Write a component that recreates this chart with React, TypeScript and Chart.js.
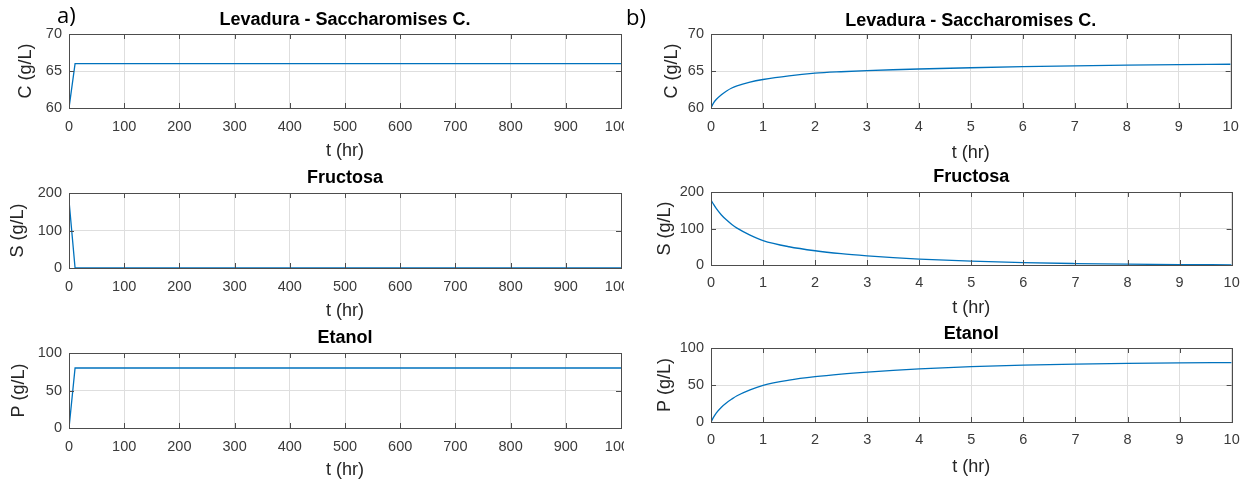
import React, { useEffect, useRef } from "react";
import { Chart, registerables } from "chart.js";
Chart.register(...registerables);

// ---------- data ----------
// a) long simulation, 0 - 1000 hr
const T_LONG = [0, 11, 1000];
const C_LONG = [60, 66, 66];
const S_LONG = [180, 0, 0];
const P_LONG = [0, 80, 80];

// b) short simulation, 0 - 10 hr
const T_SHORT = [0, 0.05, 0.1, 0.2, 0.3, 0.4, 0.5, 0.75, 1, 1.5, 2, 2.5, 3, 3.5, 4, 5, 6, 7, 8, 9, 10];
const C_SHORT = [60, 60.7, 61.15, 61.8, 62.3, 62.7, 63.0, 63.5, 63.85, 64.35, 64.7, 64.9, 65.05, 65.17, 65.27, 65.44, 65.58, 65.7, 65.79, 65.86, 65.91];
const S_SHORT = [178, 166, 155, 137, 123, 111, 101, 82, 67, 50, 39, 31, 25, 20, 16, 10.5, 6.5, 4, 2.2, 1.2, 0.6];
const P_SHORT = [0, 6.5, 12, 20, 26, 31, 35.5, 43.5, 49.5, 56.5, 61.2, 64.7, 67.5, 69.8, 71.7, 74.7, 76.8, 78.3, 79.3, 79.9, 80.3];

const X_TICKS_LONG = [0, 100, 200, 300, 400, 500, 600, 700, 800, 900, 1000];
const X_TICKS_SHORT = [0, 1, 2, 3, 4, 5, 6, 7, 8, 9, 10];
const C_TICKS = [60, 65, 70];
const S_TICKS = [0, 100, 200];
const P_TICKS = [0, 50, 100];

const TITLE_C = "Levadura - Saccharomises C.";
const TITLE_S = "Fructosa";
const TITLE_P = "Etanol";
const YLABEL_C = "C (g/L)";
const YLABEL_S = "S (g/L)";
const YLABEL_P = "P (g/L)";
const XLABEL = "t (hr)";

// ---------- style ----------
const FONT = "'Liberation Sans', Arial, Helvetica, sans-serif";
const LINE_COLOR = "#0072BD";
const AXIS_COLOR = "#4d4d4d";
const GRID_COLOR = "#dedede";
const TICK_COLOR = "#3a3a3a";
const TICK_FONT = 14.5;
const TITLE_FONT = 18;
const LABEL_FONT = 18;

const boxPlugin = {
  id: "matlabBox",
  afterDraw(chart: any) {
    const { ctx, chartArea } = chart;
    const { left, right, top, bottom } = chartArea;
    const xs = chart.scales.x;
    const ys = chart.scales.y;
    const L = 5;
    ctx.save();
    ctx.strokeStyle = AXIS_COLOR;
    ctx.lineWidth = 1;
    ctx.beginPath();
    xs.ticks.forEach((t: any) => {
      const px = Math.round(xs.getPixelForValue(t.value)) + 0.5;
      ctx.moveTo(px, top);
      ctx.lineTo(px, top + L);
      ctx.moveTo(px, bottom);
      ctx.lineTo(px, bottom - L);
    });
    ys.ticks.forEach((t: any) => {
      const py = Math.round(ys.getPixelForValue(t.value)) + 0.5;
      ctx.moveTo(left, py);
      ctx.lineTo(left + L, py);
      ctx.moveTo(right, py);
      ctx.lineTo(right - L, py);
    });
    ctx.stroke();
    ctx.strokeRect(Math.round(left) + 0.5, Math.round(top) + 0.5, Math.round(right - left), Math.round(bottom - top));
    ctx.restore();
  },
};

type PanelCfg = {
  left: number; top: number; width: number; height: number;
  boxLeft: number; boxRight: number; boxTop: number; boxBottom: number;
  titleY: number; tickY: number; xTitleY: number; yTitleX: number;
  title: string; yLabel: string;
  t: number[]; v: number[]; xTicks: number[]; yTicks: number[]; smooth: boolean;
};

function Panel({ cfg }: { cfg: PanelCfg }) {
  const ref = useRef<HTMLCanvasElement>(null);
  useEffect(() => {
    const c = cfg;
    const tLH = TITLE_FONT * 1.2;
    const lLH = LABEL_FONT * 1.2;
    const kLH = TICK_FONT * 1.2;
    const chart = new Chart(ref.current as HTMLCanvasElement, {
      type: "line",
      data: {
        datasets: [
          {
            data: c.t.map((x, i) => ({ x, y: c.v[i] })),
            borderColor: LINE_COLOR,
            borderWidth: 1.3,
            pointRadius: 0,
            fill: false,
            cubicInterpolationMode: c.smooth ? "monotone" : "default",
            tension: 0,
          },
        ],
      },
      options: {
        responsive: false,
        animation: false,
        devicePixelRatio: 1,
        layout: { padding: { left: 0, top: 0, bottom: 0, right: c.width - c.boxRight } },
        plugins: {
          legend: { display: false },
          tooltip: { enabled: false },
          title: {
            display: true,
            text: c.title,
            fullSize: false,
            color: "#000",
            font: { family: FONT, size: TITLE_FONT, weight: "bold" },
            padding: { top: c.titleY - tLH / 2, bottom: c.boxTop - c.titleY - tLH / 2 },
          },
        },
        scales: {
          x: {
            type: "linear",
            min: c.xTicks[0],
            max: c.xTicks[c.xTicks.length - 1],
            afterBuildTicks: (s: any) => {
              s.ticks = c.xTicks.map((value) => ({ value }));
            },
            afterFit: (s: any) => {
              s.height = c.height - c.boxBottom;
            },
            grid: { color: GRID_COLOR, drawTicks: false, lineWidth: 1 },
            border: { display: false },
            ticks: {
              color: TICK_COLOR,
              font: { family: FONT, size: TICK_FONT },
              padding: c.tickY - c.boxBottom - kLH / 2,
              maxRotation: 0,
              autoSkip: false,
              callback: (v: any) => String(v),
            },
            title: {
              display: true,
              text: XLABEL,
              color: "#262626",
              font: { family: FONT, size: LABEL_FONT },
              padding: { top: 0, bottom: c.height - c.xTitleY - lLH / 2 },
            },
          },
          y: {
            type: "linear",
            min: c.yTicks[0],
            max: c.yTicks[c.yTicks.length - 1],
            afterBuildTicks: (s: any) => {
              s.ticks = c.yTicks.map((value) => ({ value }));
            },
            afterFit: (s: any) => {
              s.width = c.boxLeft;
            },
            grid: { color: GRID_COLOR, drawTicks: false, lineWidth: 1 },
            border: { display: false },
            ticks: {
              color: TICK_COLOR,
              font: { family: FONT, size: TICK_FONT },
              padding: 7,
              callback: (v: any) => String(v),
            },
            title: {
              display: true,
              text: c.yLabel,
              color: "#262626",
              font: { family: FONT, size: LABEL_FONT },
              padding: { top: c.yTitleX - lLH / 2, bottom: 0 },
            },
          },
        },
      } as any,
      plugins: [boxPlugin],
    });
    return () => chart.destroy();
  }, [cfg]);
  return (
    <canvas
      ref={ref}
      width={cfg.width}
      height={cfg.height}
      style={{ position: "absolute", left: cfg.left, top: cfg.top, width: cfg.width, height: cfg.height }}
    />
  );
}

const H = 172;
const PANELS: PanelCfg[] = [
  { left: 0, top: 0, width: 650, height: H, boxLeft: 69, boxRight: 621, boxTop: 34, boxBottom: 108, titleY: 20, tickY: 127, xTitleY: 151, yTitleX: 26, title: TITLE_C, yLabel: YLABEL_C, t: T_LONG, v: C_LONG, xTicks: X_TICKS_LONG, yTicks: C_TICKS, smooth: false },
  { left: 0, top: 162, width: 650, height: H, boxLeft: 69, boxRight: 621, boxTop: 31, boxBottom: 106, titleY: 16, tickY: 125, xTitleY: 149, yTitleX: 18, title: TITLE_S, yLabel: YLABEL_S, t: T_LONG, v: S_LONG, xTicks: X_TICKS_LONG, yTicks: S_TICKS, smooth: false },
  { left: 0, top: 322, width: 650, height: H, boxLeft: 69, boxRight: 621, boxTop: 31, boxBottom: 106, titleY: 16, tickY: 125, xTitleY: 148, yTitleX: 19, title: TITLE_P, yLabel: YLABEL_P, t: T_LONG, v: P_LONG, xTicks: X_TICKS_LONG, yTicks: P_TICKS, smooth: false },
];
const PANELS_R: PanelCfg[] = [
  { left: 628, top: 0, width: 621, height: H, boxLeft: 83, boxRight: 605, boxTop: 34, boxBottom: 108, titleY: 21, tickY: 127, xTitleY: 153, yTitleX: 44.5, title: TITLE_C, yLabel: YLABEL_C, t: T_SHORT, v: C_SHORT, xTicks: X_TICKS_SHORT, yTicks: C_TICKS, smooth: true },
  { left: 628, top: 162, width: 621, height: H, boxLeft: 83, boxRight: 605, boxTop: 30, boxBottom: 103, titleY: 15, tickY: 121, xTitleY: 146, yTitleX: 37, title: TITLE_S, yLabel: YLABEL_S, t: T_SHORT, v: S_SHORT, xTicks: X_TICKS_SHORT, yTicks: S_TICKS, smooth: true },
  { left: 628, top: 322, width: 621, height: H, boxLeft: 83, boxRight: 605, boxTop: 26, boxBottom: 100, titleY: 12, tickY: 118, xTitleY: 145, yTitleX: 37, title: TITLE_P, yLabel: YLABEL_P, t: T_SHORT, v: P_SHORT, xTicks: X_TICKS_SHORT, yTicks: P_TICKS, smooth: true },
];

export default function App() {
  return (
    <div style={{ position: "fixed", left: 0, top: 0, width: 1249, height: 484, background: "#fff", overflow: "hidden" }}>
      <div style={{ position: "absolute", left: 0, top: 0, width: 624, height: 484, overflow: "hidden" }}>
        {PANELS.map((p, i) => (
          <Panel key={i} cfg={p} />
        ))}
      </div>
      {PANELS_R.map((p, i) => (
        <Panel key={"r" + i} cfg={p} />
      ))}
      <div style={{ position: "absolute", left: 57, top: 2, fontFamily: "'Open Sans', Arial, sans-serif", fontSize: 22, lineHeight: "24px", color: "#000" }}>a)</div>
      <div style={{ position: "absolute", left: 626, top: 4, fontFamily: "'Open Sans', Arial, sans-serif", fontSize: 22, lineHeight: "24px", color: "#000" }}>b)</div>
    </div>
  );
}
